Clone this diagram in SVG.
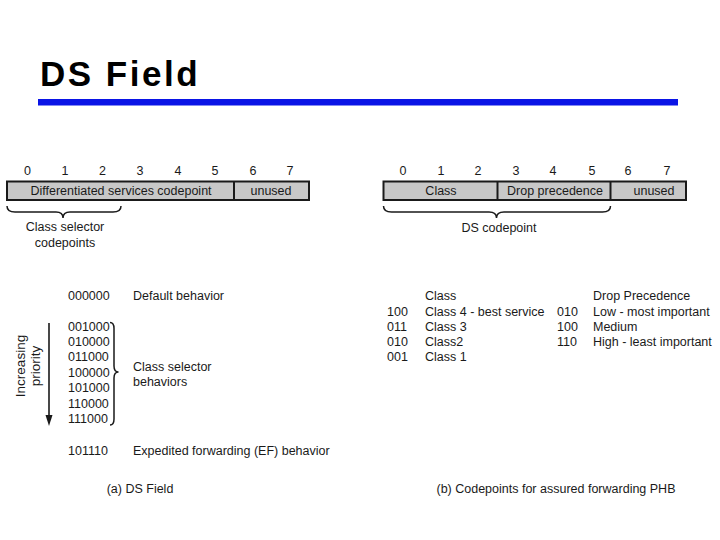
<svg xmlns="http://www.w3.org/2000/svg" width="720" height="540" viewBox="0 0 720 540">
<style>
text{font-family:"Liberation Sans",Arial,sans-serif;font-size:12.5px;fill:#1a1a1a}
.title{font-size:35px;font-weight:bold;fill:#000;letter-spacing:2.5px}
.m{text-anchor:middle}
.rot{font-size:13.5px}
.box{fill:#c8c8c8;stroke:#1a1a1a;stroke-width:2}
.div{stroke:#1a1a1a;stroke-width:2}
.brace{fill:none;stroke:#1a1a1a;stroke-width:1.5}
</style>
<rect width="720" height="540" fill="#fff"/>
<text class="title" x="40" y="86">DS Field</text>
<rect x="38" y="99" width="640" height="6.5" fill="#0a14e6"/>

<g id="field-a">
  <g class="m">
    <text x="27.5" y="175">0</text><text x="65" y="175">1</text><text x="102.5" y="175">2</text><text x="140" y="175">3</text>
    <text x="178" y="175">4</text><text x="215" y="175">5</text><text x="253" y="175">6</text><text x="290" y="175">7</text>
  </g>
  <rect class="box" x="7" y="181.5" width="302" height="18.5"/>
  <line class="div" x1="234" y1="181.5" x2="234" y2="200"/>
  <text class="m" x="121" y="195">Differentiated services codepoint</text>
  <text class="m" x="271" y="195">unused</text>
  <path class="brace" d="M7,206 Q7,212 15,212 L56,212 Q63,212 63,218 Q63,212 70,212 L113,212 Q121,212 121,206"/>
  <text class="m" x="65" y="231">Class selector</text>
  <text class="m" x="65" y="247">codepoints</text>
</g>

<g id="field-b">
  <g class="m">
    <text x="403" y="175">0</text><text x="441" y="175">1</text><text x="478" y="175">2</text><text x="516" y="175">3</text>
    <text x="553" y="175">4</text><text x="592" y="175">5</text><text x="628" y="175">6</text><text x="667" y="175">7</text>
  </g>
  <rect class="box" x="383.5" y="181.5" width="302.5" height="18.5"/>
  <line class="div" x1="497.5" y1="181.5" x2="497.5" y2="200"/>
  <line class="div" x1="610.5" y1="181.5" x2="610.5" y2="200"/>
  <text class="m" x="441" y="195">Class</text>
  <text class="m" x="555" y="195">Drop precedence</text>
  <text class="m" x="654" y="195">unused</text>
  <path class="brace" d="M383.5,206 Q383.5,212 391.5,212 L489,212 Q496.5,212 496.5,218 Q496.5,212 504,212 L602.5,212 Q610.5,212 610.5,206"/>
  <text class="m" x="499" y="232">DS codepoint</text>
</g>

<g id="codes-a">
  <text x="68" y="300">000000</text>
  <text x="133" y="300">Default behavior</text>
  <text x="68" y="331">001000</text>
  <text x="68" y="346">010000</text>
  <text x="68" y="361">011000</text>
  <text x="68" y="377">100000</text>
  <text x="68" y="392">101000</text>
  <text x="68" y="408">110000</text>
  <text x="68" y="423">111000</text>
  <path class="brace" d="M110,322.5 Q114,322.5 114,328.5 L114,366 Q114,372 118.5,372 Q114,372 114,378 L114,419 Q114,425 110,425"/>
  <text x="133" y="371">Class selector</text>
  <text x="133" y="386">behaviors</text>
  <text x="68" y="455">101110</text>
  <text x="133" y="455">Expedited forwarding (EF) behavior</text>
</g>

<g id="priority-arrow">
  <line x1="49" y1="323" x2="49" y2="418" stroke="#1a1a1a" stroke-width="1.6"/>
  <polygon points="45.5,415 52.5,415 49,426" fill="#1a1a1a"/>
  <text class="m rot" transform="translate(25,366) rotate(-90)">Increasing</text>
  <text class="m rot" transform="translate(39.5,366) rotate(-90)">priority</text>
</g>

<g id="codes-b">
  <text x="425" y="300">Class</text>
  <text x="593" y="300">Drop Precedence</text>
  <text x="387" y="316">100</text><text x="425" y="316">Class 4 - best service</text>
  <text x="557" y="316">010</text><text x="593" y="316">Low - most important</text>
  <text x="387" y="331">011</text><text x="425" y="331">Class 3</text>
  <text x="557" y="331">100</text><text x="593" y="331">Medium</text>
  <text x="387" y="346">010</text><text x="425" y="346">Class2</text>
  <text x="557" y="346">110</text><text x="593" y="346">High - least important</text>
  <text x="387" y="361">001</text><text x="425" y="361">Class 1</text>
</g>

<text class="m" x="140" y="493">(a) DS Field</text>
<text class="m" x="556" y="493">(b) Codepoints for assured forwarding PHB</text>
</svg>
